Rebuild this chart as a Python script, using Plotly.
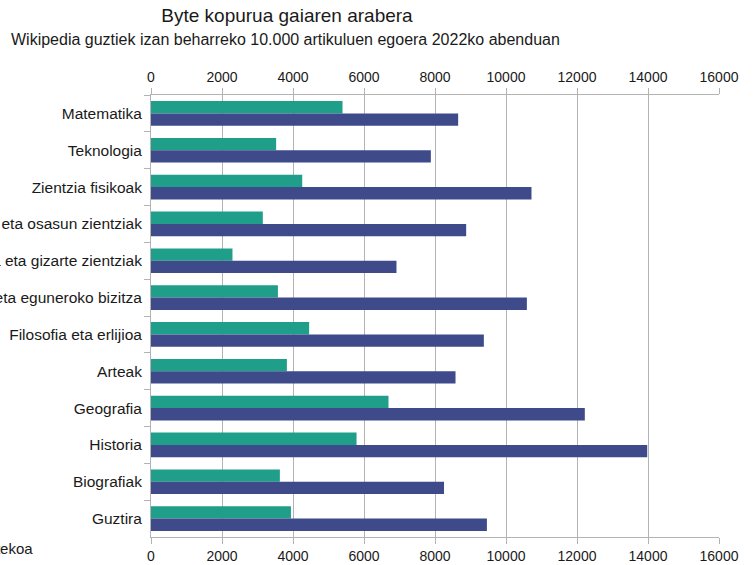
import plotly.graph_objects as go

categories = [
    "Matematika",
    "Teknologia",
    "Zientzia fisikoak",
    "Biologia eta osasun zientziak",
    "Gizartea eta gizarte zientziak",
    "Aisialdia eta eguneroko bizitza",
    "Filosofia eta erlijioa",
    "Arteak",
    "Geografia",
    "Historia",
    "Biografiak",
    "Guztira",
]
series_a_name = "Euskarazko Wikipedia"
series_a = [5395, 3525, 4260, 3150, 2295, 3575, 4455, 3828, 6690, 5790, 3630, 3942]
series_b_name = "Batez bestekoa"
series_b = [8652, 7883, 10718, 8878, 6915, 10588, 9376, 8578, 12220, 13978, 8254, 9462]
x_ticks = [0, 2000, 4000, 6000, 8000, 10000, 12000, 14000, 16000]

TEAL = "#1f9e89"
BLUE = "#3e4a89"
GRID = "#b3b3b3"
FONT = "Liberation Sans, Arial, sans-serif"
TXT = "#1a1a1a"

fig = go.Figure()
fig.add_trace(go.Bar(y=categories, x=series_a, orientation="h", name=series_a_name,
                     marker=dict(color=TEAL, line=dict(width=0))))
fig.add_trace(go.Bar(y=categories, x=series_b, orientation="h", name=series_b_name,
                     marker=dict(color=BLUE, line=dict(width=0))))
# invisible helper so the top axis is drawn
fig.add_trace(go.Scatter(x=[0], y=[categories[0]], xaxis="x2", mode="markers",
                         marker=dict(opacity=0), showlegend=False, hoverinfo="skip"))

axis_common = dict(range=[0, 16000], tickvals=x_ticks, ticktext=[str(v) for v in x_ticks],
                   ticks="outside", ticklen=6, tickcolor=GRID, showline=True, linecolor=GRID,
                   linewidth=1, tickfont=dict(family=FONT, size=14, color=TXT), zeroline=False)

fig.update_layout(
    width=756, height=565,
    margin=dict(l=151, r=37, t=95, b=28, autoexpand=False),
    paper_bgcolor="white", plot_bgcolor="white",
    barmode="group", bargap=0.33, bargroupgap=0,
    title=dict(text="Byte kopurua gaiaren arabera", xref="container", x=287/756, xanchor="center",
               y=1 - 15/565, yanchor="middle", font=dict(family=FONT, size=19, color=TXT)),
    xaxis=dict(**axis_common, side="bottom", showgrid=True, gridcolor=GRID, gridwidth=1),
    xaxis2=dict(**axis_common, side="top", overlaying="x", matches="x", showgrid=False),
    yaxis=dict(type="category", range=[len(categories) - 0.5, -0.5], autorange=False,
               tickson="boundaries", ticks="outside", ticklabelstandoff=5,
               ticklen=6, tickcolor=GRID, showline=True, linecolor=GRID, showgrid=False,
               tickfont=dict(family=FONT, size=15.5, color=TXT)),
    showlegend=True,
    legend=dict(orientation="h", xanchor="right", x=(39 - 151) / 568, yanchor="middle",
                y=-(548 - 536.7) / 441.7, font=dict(family=FONT, size=15, color=TXT),
                bgcolor="rgba(0,0,0,0)"),
    annotations=[dict(text="Wikipedia guztiek izan beharreko 10.000 artikuluen egoera 2022ko abenduan",
                      xref="paper", yref="paper", x=(285.5 - 151) / 568, y=1 + (95 - 40) / 441.7,
                      xanchor="center", yanchor="middle", showarrow=False,
                      font=dict(family=FONT, size=16, color=TXT))],
)

fig.write_html("out.html", post_script="document.body.style.margin='0px';",
               config={"displayModeBar": False})
